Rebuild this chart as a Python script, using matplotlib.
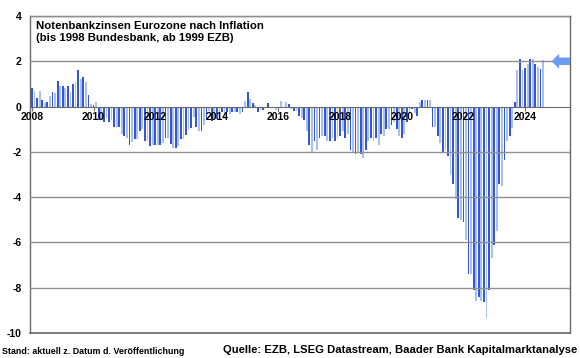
import numpy as np
import matplotlib
matplotlib.use("Agg")
import matplotlib.pyplot as plt
from matplotlib.transforms import blended_transform_factory

# Real policy rate (ECB rate minus inflation), monthly, Jan 2008 .. Aug 2024
r2008 = [0.8, 0.7, 0.4, 0.7, 0.3, 0.15, 0.2, 0.45, 0.65, 0.6, 1.15, 0.9]
r2009 = [0.9, 0.8, 0.9, 0.65, 1.0, 1.1, 1.6, 1.2, 1.3, 1.1, 0.5, 0.1]
r2010 = [0.05, 0.2, -0.6, -0.6, -0.7, -0.5, -0.7, -0.6, -0.9, -0.9, -0.9, -1.2]
r2011 = [-1.3, -1.4, -1.7, -1.55, -1.45, -1.45, -1.1, -1.0, -1.5, -1.5, -1.75, -1.7]
r2012 = [-1.7, -1.7, -1.7, -1.6, -1.4, -1.4, -1.65, -1.85, -1.85, -1.75, -1.45, -1.45]
r2013 = [-1.25, -1.05, -0.95, -0.45, -0.9, -1.1, -1.1, -0.8, -0.6, -0.2, -0.65, -0.55]
r2014 = [-0.55, -0.45, -0.25, -0.45, -0.25, -0.35, -0.25, -0.25, -0.25, -0.35, -0.25, 0.25]
r2015 = [0.65, 0.35, 0.15, 0.05, -0.25, -0.15, -0.15, -0.05, 0.15, -0.05, -0.05, -0.15]
r2016 = [-0.25, 0.25, 0.0, 0.2, 0.1, -0.1, -0.2, -0.2, -0.4, -0.5, -0.6, -1.1]
r2017 = [-1.7, -2.0, -1.5, -1.9, -1.4, -1.3, -1.3, -1.5, -1.5, -1.4, -1.5, -1.4]
r2018 = [-1.3, -1.1, -1.4, -1.2, -1.9, -2.0, -2.1, -2.0, -2.1, -2.25, -1.9, -1.5]
r2019 = [-1.4, -1.5, -1.4, -1.7, -1.2, -1.3, -1.0, -1.0, -0.8, -0.7, -1.0, -1.3]
r2020 = [-1.4, -1.2, -0.7, -0.3, -0.1, -0.3, -0.4, 0.2, 0.3, 0.3, 0.3, 0.3]
r2021 = [-0.9, -0.9, -1.3, -1.6, -2.0, -1.9, -2.2, -3.0, -3.4, -4.1, -4.9, -5.0]
r2022 = [-5.1, -5.9, -7.4, -7.4, -8.1, -8.6, -8.4, -8.6, -8.65, -9.35, -8.1, -6.7]
r2023 = [-6.1, -5.5, -3.4, -3.5, -2.35, -1.5, -1.3, -0.95, 0.2, 1.6, 2.1, 1.6]
r2024 = [1.7, 1.9, 2.1, 2.1, 1.9, 1.75, 1.65, 2.05]

real_rate = (r2008 + r2009 + r2010 + r2011 + r2012 + r2013 + r2014 + r2015 + r2016
             + r2017 + r2018 + r2019 + r2020 + r2021 + r2022 + r2023 + r2024)
start_year = 2008
year_labels = ["2008", "2010", "2012", "2014", "2016", "2018", "2020", "2022", "2024"]
y_ticks = [4, 2, 0, -2, -4, -6, -8, -10]
current_value = 2.0

title = "Notenbankzinsen Eurozone nach Inflation\n(bis 1998 Bundesbank, ab 1999 EZB)"
source = "Quelle: EZB, LSEG Datastream, Baader Bank Kapitalmarktanalyse"
stand = "Stand: aktuell z. Datum d. Veröffentlichung"

plt.rcParams['font.family'] = ['Liberation Sans', 'DejaVu Sans']

fig = plt.figure(figsize=(5.8, 3.58), dpi=100)
ax = fig.add_axes([30/580, 1-333/358, 540/580, 317/358])
ax.set_axisbelow(False)

x = np.arange(len(real_rate))
colors = ['#3554d8' if i % 2 == 0 else '#a6c0f0' for i in range(len(real_rate))]
ax.bar(x, real_rate, width=0.7, color=colors, linewidth=0, zorder=2)

ax.set_xlim(-0.75, 209.5)
ax.set_ylim(-10, 4)

# grid lines
for v in y_ticks:
    if v == 0:
        continue
    ax.axhline(v, color='#8f8f8f', lw=1.0, zorder=3)

ax.set_yticks(y_ticks)
ax.set_yticklabels([str(v) for v in y_ticks], fontsize=7.5, fontweight='bold')
ax.tick_params(axis='y', length=0, pad=6)

# x axis at zero
ax.spines['bottom'].set_position(('data', 0))
ax.spines['bottom'].set_color('#6a6a6a')
for s in ('left', 'right', 'top'):
    ax.spines[s].set_color('#6a6a6a')
    ax.spines[s].set_linewidth(1.0)
tick_pos = [(int(l) - start_year) * 12 for l in year_labels]
ax.set_xticks(tick_pos)
ax.set_xticklabels(year_labels, fontsize=7.5, fontweight='bold')
ax.tick_params(axis='x', direction='out', length=3, width=0.8, color='#6a6a6a', pad=1)
ax.axhline(-10, color='#6a6a6a', lw=1.2, zorder=4, clip_on=False)

ax.text(0.012, 0.983, title, transform=ax.transAxes, ha='left', va='top',
        fontsize=8.2, fontweight='bold', linespacing=1.15, zorder=5)

# current value marker arrow on right side
trans = blended_transform_factory(ax.transAxes, ax.transData)
ax.annotate('', xy=(0.966, current_value), xycoords=trans,
            xytext=(1.0, current_value), textcoords=trans,
            arrowprops=dict(arrowstyle='simple,head_length=0.45,head_width=0.9,tail_width=0.45',
                            mutation_scale=12, color='#6b9cf0', lw=0,
                            shrinkA=0, shrinkB=0), zorder=5)

fig.text(2/580, 1-351/358, stand, ha='left', va='center', fontsize=6.4, fontweight='bold')
fig.text(577/580, 1-350/358, source, ha='right', va='center', fontsize=8.1, fontweight='bold')

fig.savefig("out.png", dpi=100)
